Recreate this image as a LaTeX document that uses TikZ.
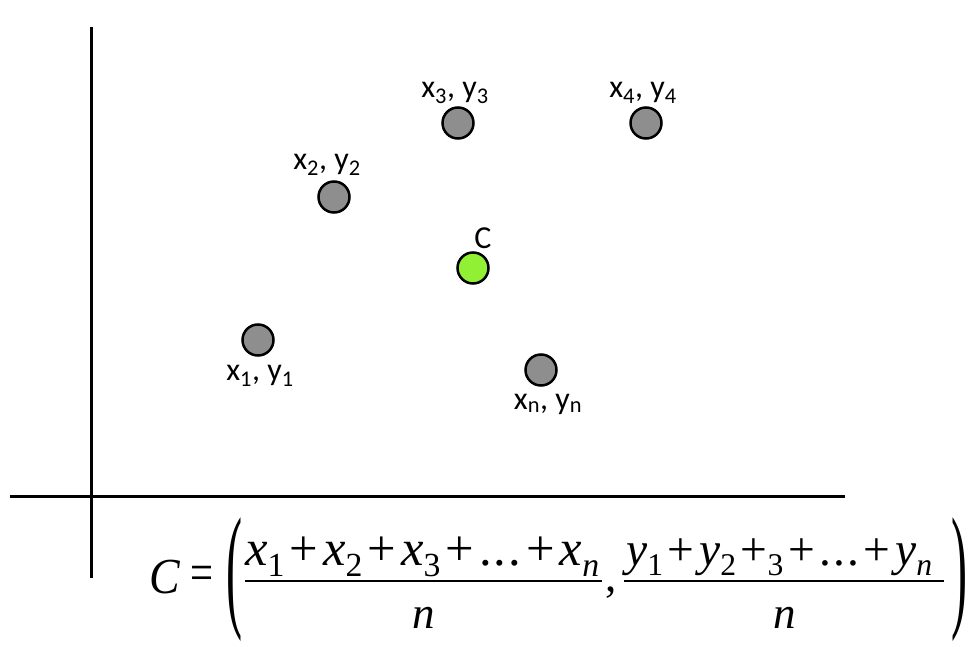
\documentclass[tikz,border=0pt]{standalone}
\usepackage{fontspec}
\setmainfont{Liberation Serif}
\newfontfamily\lblfont{Carlito}
\usepackage{graphicx}
\tikzset{
  axis/.style={line width=3pt},
  pt/.style={circle, draw=black, line width=2.5pt, fill=ptgray, minimum size=31pt, inner sep=0pt},
  ctr/.style={pt, fill=ctrgreen},
  lbl/.style={font=\lblfont\fontsize{32}{36}\selectfont, inner sep=0pt},
  eq/.style={inner sep=0pt, font=\fontsize{45}{50}\selectfont},
  bar/.style={line width=2pt},
}
\definecolor{ptgray}{RGB}{142,142,142}
\definecolor{ctrgreen}{RGB}{146,240,52}
\newcommand{\sbs}[1]{\raisebox{-0.22em}{\fontsize{30}{30}\selectfont #1}}
\newcommand{\V}[2]{\textit{#1}\sbs{#2}}
\newcommand{\Pl}{\hspace{0.1em}+\hspace{0.1em}}
\newcommand{\Dots}{.\hspace{0.04em}.\hspace{0.04em}.}
\begin{document}
\begin{tikzpicture}[x=1pt,y=-1pt]
\useasboundingbox (0,0) rectangle (972,647);
% axes
\coordinate (vtop) at (91,27);
\coordinate (vbot) at (91,578);
\coordinate (hl) at (10,496);
\coordinate (hr) at (845,496);
\draw[axis] (vtop) -- (vbot);
\draw[axis] (hl) -- (hr);
% points
\node[pt] (p1) at (258,340) {};
\node[pt] (p2) at (334,197) {};
\node[pt] (p3) at (458,123) {};
\node[pt] (p4) at (646,123) {};
\node[pt] (pn) at (541,370) {};
\node[ctr] (c) at (473,268) {};
% labels
\node[lbl] (l1) at (260,376) {x\textsubscript{1}, y\textsubscript{1}};
\node[lbl] (l2) at (327,165) {x\textsubscript{2}, y\textsubscript{2}};
\node[lbl] (l3) at (455,93) {x\textsubscript{3}, y\textsubscript{3}};
\node[lbl] (l4) at (643,93) {x\textsubscript{4}, y\textsubscript{4}};
\node[lbl] (ln) at (548,404) {x\textsubscript{n}, y\textsubscript{n}};
\node[lbl] (lc) at (483,238) {C};
% formula
\node[eq, anchor=base west] (fC) at (149,593) {\resizebox{31pt}{!}{\scalebox{1}[1.1]{\textit{C}}}};
\node[eq] (feq) at (202,578) {\resizebox{23pt}{!}{\scalebox{1}[1.3]{=}}};
\node[eq] (flp) at (234,580) {\resizebox*{16pt}{124pt}{(}};
\node[eq] (frp) at (959,580) {\resizebox*{16pt}{124pt}{)}};
\node[eq, anchor=base west] (fn1) at (245,565) {\resizebox{354pt}{!}{\V{x}{1}\Pl\V{x}{2}\Pl\V{x}{3}\Pl\Dots\Pl\V{x}{\textit{n}}}};
\node[eq, anchor=base west] (fn2) at (626,565) {\resizebox{306pt}{!}{\V{y}{1}\Pl\V{y}{2}\hspace{0.1em}+\sbs{3}\Pl\Dots\Pl\V{y}{\textit{n}}}};
\coordinate (b1l) at (245,581);
\coordinate (b1r) at (602,581);
\coordinate (b2l) at (624,581);
\coordinate (b2r) at (944,581);
\draw[bar] (b1l) -- (b1r);
\draw[bar] (b2l) -- (b2r);
\node[eq, anchor=base] (fd1) at (424,628) {\textit{n}};
\node[eq, anchor=base] (fd2) at (785,628) {\textit{n}};
\node[eq, anchor=base west] (fcm) at (605,591) {,};
\end{tikzpicture}
\end{document}
